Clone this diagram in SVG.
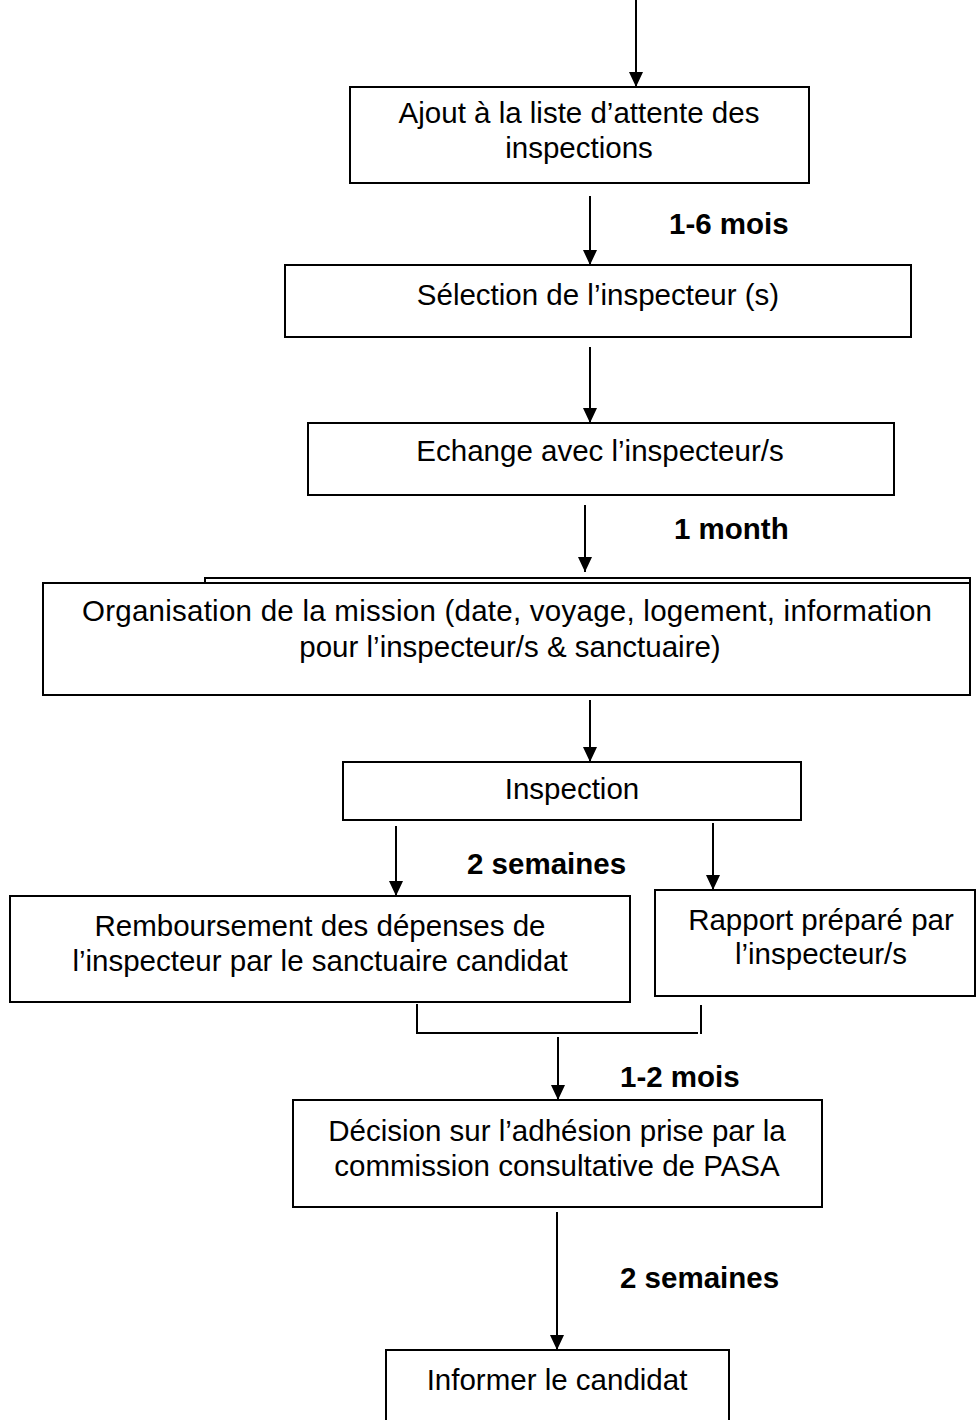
<svg xmlns="http://www.w3.org/2000/svg" width="976" height="1420" viewBox="0 0 976 1420">
<style>
.box{fill:#fff;stroke:#000;stroke-width:2}
.t{font-family:"Liberation Sans",Arial,sans-serif;font-size:29.5px;fill:#000;text-anchor:middle}
.lbl{font-family:"Liberation Sans",Arial,sans-serif;font-size:29.5px;font-weight:bold;fill:#000}
.c{fill:none;stroke:#000;stroke-width:2}
.a{fill:none;stroke:#000;stroke-width:2;marker-end:url(#ah)}
</style>
<defs>
<marker id="ah" markerWidth="15" markerHeight="14" refX="15" refY="7" orient="auto" markerUnits="userSpaceOnUse" viewBox="0 0 15 14">
<path d="M0,0 L15,7 L0,14 Z" fill="#000"/>
</marker>
</defs>
<rect width="976" height="1420" fill="#fff"/>
<g id="connectors">
<path class="a" d="M636,0 V87"/>
<path class="a" d="M590,196 V265"/>
<path class="a" d="M590,347 V423"/>
<path class="a" d="M585,505 V572"/>
<path class="a" d="M590,700 V762"/>
<path class="a" d="M396,826 V896"/>
<path class="a" d="M713,823 V890"/>
<path class="c" d="M417,1004 V1033 H698"/>
<path class="c" d="M701,1005 V1034"/>
<path class="a" d="M558,1037 V1100"/>
<path class="a" d="M557,1212 V1350"/>
</g>
<g id="labels">
<text class="lbl" x="669" y="234">1-6 mois</text>
<text class="lbl" x="674" y="539">1 month</text>
<text class="lbl" x="467" y="874">2 semaines</text>
<text class="lbl" x="620" y="1087">1-2 mois</text>
<text class="lbl" x="620" y="1288">2 semaines</text>
</g>
<g id="n1">
<rect class="box" x="350" y="87" width="459" height="96"/>
<text class="t" x="579" y="123">Ajout à la liste d’attente des</text>
<text class="t" x="579" y="158">inspections</text>
</g>
<g id="n2">
<rect class="box" x="285" y="265" width="626" height="72"/>
<text class="t" x="598" y="305">Sélection de l’inspecteur (s)</text>
</g>
<g id="n3">
<rect class="box" x="308" y="423" width="586" height="72"/>
<text class="t" x="600" y="461">Echange avec l’inspecteur/s</text>
</g>
<g id="n4">
<path class="c" d="M205,583 V578 H970 V583"/>
<rect class="box" x="43" y="583" width="927" height="112"/>
<text class="t" x="507" y="621" textLength="850" lengthAdjust="spacing">Organisation de la mission (date, voyage, logement, information</text>
<text class="t" x="510" y="657">pour l’inspecteur/s &amp; sanctuaire)</text>
</g>
<g id="n5">
<rect class="box" x="343" y="762" width="458" height="58"/>
<text class="t" x="572" y="799">Inspection</text>
</g>
<g id="n6">
<rect class="box" x="10" y="896" width="620" height="106"/>
<text class="t" x="320" y="936">Remboursement des dépenses de</text>
<text class="t" x="320" y="971">l’inspecteur par le sanctuaire candidat</text>
</g>
<g id="n7">
<rect class="box" x="655" y="890" width="320" height="106"/>
<text class="t" x="821" y="930">Rapport préparé par</text>
<text class="t" x="821" y="964">l’inspecteur/s</text>
</g>
<g id="n8">
<rect class="box" x="293" y="1100" width="529" height="107"/>
<text class="t" x="557" y="1141">Décision sur l’adhésion prise par la</text>
<text class="t" x="557" y="1176">commission consultative de PASA</text>
</g>
<g id="n9">
<rect class="box" x="386" y="1350" width="343" height="90"/>
<text class="t" x="557" y="1390">Informer le candidat</text>
</g>
</svg>
